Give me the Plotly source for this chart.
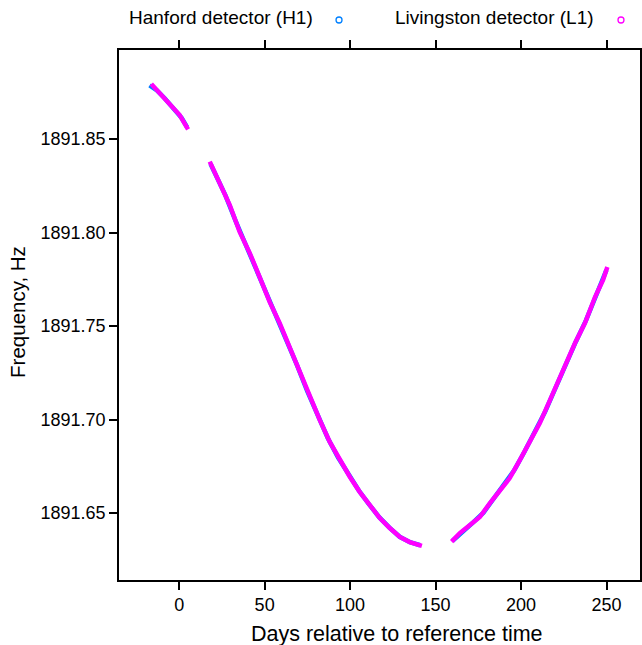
import plotly.graph_objects as go

# ---- data (None separates observing segments) ----
days_L1 = [-16.3, -11.4, -5.6, 0.3, 5.2, None,
           17.9, 24.0, 29.6, 35.4, 41.3, 47.1, 53.0, 58.8, 64.7, 70.5, 76.4, 82.3,
           88.1, 94.0, 99.9, 105.7, 111.5, 117.4, 123.2, 129.1, 134.9, 140.8, 142.0, None,
           159.4, 164.2, 170.1, 175.9, 181.8, 187.6, 193.4, 199.3, 205.2, 211.0, 217.0,
           225.7, 231.6, 237.4, 243.3, 248.0, 250.5]
freq_L1 = [1891.8794, 1891.8744, 1891.8691, 1891.8628, 1891.8552, None,
           1891.8379, 1891.8265, 1891.8147, 1891.8003, 1891.7890, 1891.7762, 1891.7628,
           1891.7516, 1891.7385, 1891.7258, 1891.7115, 1891.6997, 1891.6880, 1891.6783,
           1891.6693, 1891.6612, 1891.6543, 1891.6473, 1891.6420, 1891.6372, 1891.6345,
           1891.6329, 1891.6325, None,
           1891.6347, 1891.6393, 1891.6436, 1891.6479, 1891.6553, 1891.6623, 1891.6687,
           1891.6783, 1891.6880, 1891.6981, 1891.7105, 1891.7291, 1891.7409, 1891.7516,
           1891.7655, 1891.7746, 1891.7816]

days_H1 = [-17.3, -13.0, -8.5, -2.5, 1.5, 4.6, None,
           18.3, 21.4, 27.0, 33.0, 39.0, 45.0, 51.0, 57.0, 63.0, 69.0, 75.0, 81.0,
           87.0, 93.0, 99.0, 105.0, 111.0, 117.0, 123.0, 129.0, 135.0, 141.0, None,
           160.0, 166.0, 172.0, 178.0, 184.0, 190.0, 196.0, 202.0, 208.0, 214.0, 220.0,
           226.0, 232.0, 238.0, 244.0, 250.0]
freq_H1 = [1891.8787, 1891.8760, 1891.8718, 1891.8655, 1891.8612, 1891.8563, None,
           1891.8368, 1891.8310, 1891.8200, 1891.8062, 1891.7935, 1891.7808, 1891.7672,
           1891.7552, 1891.7420, 1891.7290, 1891.7150, 1891.7022, 1891.6900, 1891.6797,
           1891.6705, 1891.6622, 1891.6548, 1891.6478, 1891.6422, 1891.6373, 1891.6344,
           1891.6328, None,
           1891.6352, 1891.6405, 1891.6450, 1891.6502, 1891.6580, 1891.6650, 1891.6728,
           1891.6828, 1891.6930, 1891.7040, 1891.7165, 1891.7297, 1891.7415, 1891.7530,
           1891.7670, 1891.7800]

x_ticks = [0, 50, 100, 150, 200, 250]
y_ticks = [1891.65, 1891.70, 1891.75, 1891.80, 1891.85]
y_tick_text = ["1891.65", "1891.70", "1891.75", "1891.80", "1891.85"]

labels = ["Hanford detector (H1)", "Livingston detector (L1)"]
colors = ["#0080ff", "#ff00ff"]

FONT = "Liberation Sans, Arial, Helvetica, sans-serif"

fig = go.Figure()
fig.add_trace(go.Scatter(x=days_H1, y=freq_H1, mode="lines", name=labels[0],
                         line=dict(color=colors[0], width=4.5), connectgaps=False,
                         showlegend=False))
fig.add_trace(go.Scatter(x=days_L1, y=freq_L1, mode="lines", name=labels[1],
                         line=dict(color=colors[1], width=4.5), connectgaps=False,
                         showlegend=False))

axis_common = dict(showgrid=False, zeroline=False, showline=True, linecolor="black",
                   linewidth=1.5, mirror="ticks", ticks="outside", ticklen=8,
                   tickwidth=1.5, tickcolor="black", automargin=False,
                   tickfont=dict(family=FONT, size=18, color="black"))

fig.update_xaxes(range=[-35.2, 269.6], tickvals=x_ticks, **axis_common)
fig.update_yaxes(range=[1891.6142, 1891.8976], tickvals=y_ticks, ticktext=y_tick_text,
                 **axis_common)

# legend drawn as text followed by symbol (as in the reference)
legend_text_x = [0.3762, 0.9155]
legend_sym_x = [0.4223, 0.9635]
annotations = []
shapes = []
for lab, col, tx, sx in zip(labels, colors, legend_text_x, legend_sym_x):
    annotations.append(dict(text=lab, x=tx, y=1.0604, xref="paper", yref="paper",
                            xanchor="right", yanchor="middle", showarrow=False,
                            font=dict(family=FONT, size=19, color="black")))
    shapes.append(dict(type="circle", xref="paper", yref="paper",
                       xsizemode="pixel", ysizemode="pixel",
                       xanchor=sx, yanchor=1.0566, x0=-3, x1=3, y0=-3, y1=3,
                       line=dict(color=col, width=1.3)))

annotations.append(dict(text="Days relative to reference time", x=0.534, y=-0.102,
                        xref="paper", yref="paper", xanchor="center", yanchor="middle",
                        showarrow=False, font=dict(family=FONT, size=21.5, color="black")))
annotations.append(dict(text="Frequency, Hz", x=-0.194, y=0.5057, textangle=-90,
                        xref="paper", yref="paper", xanchor="center", yanchor="middle",
                        showarrow=False, font=dict(family=FONT, size=20.5, color="black")))

fig.update_layout(width=642, height=645, margin=dict(l=119, r=2, t=50, b=65),
                  paper_bgcolor="white", plot_bgcolor="white",
                  annotations=annotations, shapes=shapes, showlegend=False)

fig.write_html("out.html")
